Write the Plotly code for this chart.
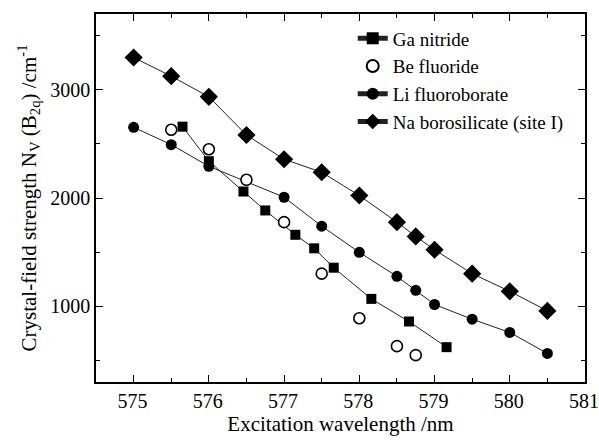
import plotly.graph_objects as go

ga_x = [575.65, 576.0, 576.46, 576.75, 577.15, 577.4, 577.66, 578.16, 578.66, 579.16]
ga_y = [2659, 2340, 2060, 1885, 1660, 1535, 1356, 1068, 859, 622]

be_x = [575.5, 576.0, 576.5, 577.0, 577.5, 578.0, 578.5, 578.75]
be_y = [2631, 2450, 2168, 1777, 1301, 889, 631, 548]

li_x = [575.0, 575.5, 576.0, 577.0, 577.5, 578.0, 578.5, 578.75, 579.0, 579.5, 580.0, 580.5]
li_y = [2653, 2493, 2293, 2007, 1740, 1498, 1276, 1147, 1016, 880, 758, 564]

na_x = [575.0, 575.5, 576.0, 576.5, 577.0, 577.5, 578.0, 578.5, 578.75, 579.0, 579.5, 580.0, 580.5]
na_y = [3298, 3126, 2935, 2582, 2358, 2238, 2023, 1777, 1645, 1522, 1301, 1138, 957]

FONT = "Liberation Serif"

fig = go.Figure()
fig.add_trace(go.Scatter(x=na_x, y=na_y, mode="lines+markers", name="Na borosilicate (site I)",
                         line=dict(color="#222", width=1),
                         marker=dict(symbol="diamond", size=14, color="black"), legendrank=4))
fig.add_trace(go.Scatter(x=li_x, y=li_y, mode="lines+markers", name="Li fluoroborate",
                         line=dict(color="#222", width=1),
                         marker=dict(symbol="circle", size=11, color="black"), legendrank=3))
fig.add_trace(go.Scatter(x=ga_x, y=ga_y, mode="lines+markers", name="Ga nitride",
                         line=dict(color="#222", width=1),
                         marker=dict(symbol="square", size=10, color="black"), legendrank=1))
fig.add_trace(go.Scatter(x=be_x, y=be_y, mode="markers", name="Be fluoride",
                         marker=dict(symbol="circle", size=11, color="white",
                                     line=dict(color="black", width=1.6)), legendrank=2))

axis_common = dict(
    showline=True, linecolor="black", linewidth=1.5, mirror="ticks",
    ticks="inside", ticklen=7, tickwidth=1.2, tickcolor="black",
    showgrid=False, zeroline=False, ticklabeloverflow="allow", automargin=False,
    tickfont=dict(family=FONT, size=20, color="black"),
)

fig.update_xaxes(range=[574.5, 581.0], dtick=1, tick0=575, ticklabelshift=-1,
                 minor=dict(dtick=0.5, ticks="inside", ticklen=4, tickcolor="black", tickwidth=1.2),
                 title=dict(text="Excitation wavelength /nm", font=dict(family=FONT, size=21, color="black"),
                            standoff=6),
                 **axis_common)
fig.update_yaxes(range=[300, 3700], dtick=1000, tick0=0,
                 minor=dict(dtick=500, ticks="inside", ticklen=4, tickcolor="black", tickwidth=1.2),
                 title=dict(text="Crystal-field strength N<sub>V</sub> (B<sub>2q</sub>) /cm<sup>-1</sup>",
                            font=dict(family=FONT, size=21, color="black"), standoff=8),
                 **axis_common)

fig.update_layout(
    width=599, height=442,
    margin=dict(l=96, r=14, t=14, b=60),
    paper_bgcolor="white", plot_bgcolor="white",
    showlegend=True,
    legend=dict(x=0.525, y=0.985, xanchor="left", yanchor="top",
                bgcolor="rgba(0,0,0,0)", font=dict(family=FONT, size=19, color="black"),
                tracegroupgap=0, itemsizing="constant"),
    font=dict(family=FONT, color="black"),
)

fig.write_html("out.html")
